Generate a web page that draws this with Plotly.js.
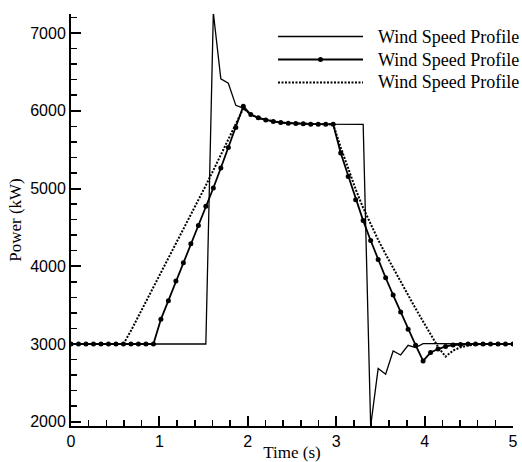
<!DOCTYPE html>
<html>
<head>
<meta charset="utf-8">
<script src="https://cdn.plot.ly/plotly-3.0.1.min.js"></script>
<style>
  html, body { margin: 0; padding: 0; background: #ffffff; }
  #chart { width: 522px; height: 462px; }
</style>
</head>
<body>
<div id="chart"></div>
<script>
// ---- data ----
const timeS = [
  0.0000, 0.0847, 0.1695, 0.2542, 0.3390, 0.4237, 0.5085, 0.5932, 0.6780, 0.7627,
  0.8475, 0.9322, 1.0169, 1.1017, 1.1864, 1.2712, 1.3559, 1.4407, 1.5254, 1.6102,
  1.6949, 1.7797, 1.8644, 1.9492, 2.0339, 2.1186, 2.2034, 2.2881, 2.3729, 2.4576,
  2.5424, 2.6271, 2.7119, 2.7966, 2.8814, 2.9661, 3.0508, 3.1356, 3.2203, 3.3051,
  3.3898, 3.4746, 3.5593, 3.6441, 3.7288, 3.8136, 3.8983, 3.9831, 4.0678, 4.1525,
  4.2373, 4.3220, 4.4068, 4.4915, 4.5763, 4.6610, 4.7458, 4.8305, 4.9153, 5.0000
];

const powerSolid = [
  3000, 3000, 3000, 3000, 3000, 3000, 3000, 3000, 3000, 3000,
  3000, 3000, 3000, 3000, 3000, 3000, 3000, 3000, 3000, 7260,
  6410, 6355, 6070, 6035, 5950, 5909, 5883, 5862, 5849, 5841,
  5836, 5832, 5828, 5828, 5828, 5826, 5826, 5826, 5826, 5826,
  1945, 2684, 2611, 2910, 2859, 2983, 2954, 3005, 3004, 3003,
  3002, 3000, 3000, 3000, 3000, 3000, 3000, 3000, 3000, 3000
];

const powerMarked = [
  3000, 3000, 3000, 3000, 3000, 3000, 3000, 3000, 3000, 3000,
  3000, 3000, 3317, 3557, 3809, 4045, 4288, 4523, 4771, 5007,
  5264, 5528, 5785, 6058, 5951, 5909, 5883, 5862, 5849, 5841,
  5836, 5832, 5828, 5828, 5828, 5826, 5456, 5156, 4857, 4587,
  4331, 4087, 3852, 3629, 3411, 3189, 2985, 2782, 2890, 2935,
  2968, 2987, 2995, 2999, 3000, 3000, 3000, 3000, 3000, 3000
];

const powerDotted = [
  3000, 3000, 3000, 3000, 3000, 3000, 3000, 3000, 3170, 3355,
  3540, 3725, 3910, 4095, 4280, 4465, 4655, 4845, 5040, 5235,
  5430, 5630, 5830, 6030, 5951, 5909, 5883, 5862, 5849, 5841,
  5836, 5832, 5828, 5828, 5828, 5826, 5530, 5250, 4990, 4750,
  4535, 4340, 4155, 3975, 3800, 3625, 3455, 3290, 3125, 2960,
  2838, 2915, 2957, 2982, 2994, 3000, 3000, 3000, 3000, 3000
];

const seriesNames = ['Wind Speed Profile', 'Wind Speed Profile', 'Wind Speed Profile'];
const xTickVals = [0, 1, 2, 3, 4, 5];
const yTickVals = [2000, 3000, 4000, 5000, 6000, 7000];

// ---- styles ----
const SANS = 'Liberation Sans, Arial, Helvetica, sans-serif';
const SERIF = 'Liberation Serif, Times New Roman, Times, serif';
const DOT_DASH = '2px,1.5px';

const traces = [
  { x: timeS, y: powerSolid, name: seriesNames[0], type: 'scatter', mode: 'lines',
    line: { color: '#000', width: 1.3 } },
  { x: timeS, y: powerMarked, name: seriesNames[1], type: 'scatter', mode: 'lines+markers',
    line: { color: '#000', width: 1.8 }, marker: { color: '#000', size: 5 } },
  { x: timeS, y: powerDotted, name: seriesNames[2], type: 'scatter', mode: 'lines',
    line: { color: '#000', width: 2, dash: DOT_DASH } }
];

// manual legend (long sample lines like the reference)
const M = { l: 71, r: 9, t: 14, b: 36 };
const W = 522, H = 462;
const pw = W - M.l - M.r, ph = H - M.t - M.b;
const px = v => (v - M.l) / pw;
const py = v => (H - M.b - v) / ph;
const legRows = [36.5, 59.5, 82.5];
const legX0 = 278, legX1 = 363, legTxt = 376;
const legDash = ['solid', 'solid', DOT_DASH];
const legWidth = [1.3, 1.8, 2];

const shapes = [];
const annotations = [];
legRows.forEach((ry, k) => {
  shapes.push({ type: 'line', xref: 'paper', yref: 'paper',
    x0: px(legX0), x1: px(legX1), y0: py(ry), y1: py(ry),
    line: { color: '#000', width: legWidth[k], dash: legDash[k] } });
  annotations.push({ xref: 'paper', yref: 'paper', x: px(legTxt), y: py(ry),
    xanchor: 'left', yanchor: 'middle', showarrow: false, text: seriesNames[k],
    font: { family: SERIF, size: 18, color: '#000' } });
});
const midX = (legX0 + legX1) / 2;
shapes.push({ type: 'circle', xref: 'paper', yref: 'paper',
  x0: px(midX - 2.5), x1: px(midX + 2.5), y0: py(legRows[1] + 2.5), y1: py(legRows[1] - 2.5),
  fillcolor: '#000', line: { color: '#000', width: 0 } });

const layout = {
  width: W, height: H,
  margin: M,
  paper_bgcolor: '#fff', plot_bgcolor: '#fff',
  showlegend: false,
  xaxis: {
    range: [0, 5], tickvals: xTickVals, ticktext: xTickVals.map(String),
    showline: true, linecolor: '#000', linewidth: 2, mirror: false,
    ticks: 'inside', ticklen: 10, tickwidth: 2, tickcolor: '#000',
    minor: { dtick: 0.2, ticks: 'inside', ticklen: 6, tickwidth: 1.5, tickcolor: '#000', showgrid: false },
    showgrid: false, zeroline: false,
    tickfont: { family: SANS, size: 16, color: '#000' },
    title: { text: 'Time (s)', font: { family: SERIF, size: 17, color: '#000' }, standoff: 0 },
    automargin: false
  },
  yaxis: {
    range: [1945, 7245], tickvals: yTickVals, ticktext: yTickVals.map(String),
    showline: true, linecolor: '#000', linewidth: 2, mirror: false,
    ticks: 'inside', ticklen: 10, tickwidth: 2, tickcolor: '#000',
    minor: { dtick: 200, ticks: 'inside', ticklen: 6, tickwidth: 1.5, tickcolor: '#000', showgrid: false },
    showgrid: false, zeroline: false,
    tickfont: { family: SANS, size: 16, color: '#000' },
    title: { text: 'Power (kW)', font: { family: SERIF, size: 17, color: '#000' }, standoff: 4 },
    automargin: false
  },
  shapes: shapes,
  annotations: annotations
};

Plotly.newPlot('chart', traces, layout, { displayModeBar: false, staticPlot: true });
</script>
</body>
</html>
